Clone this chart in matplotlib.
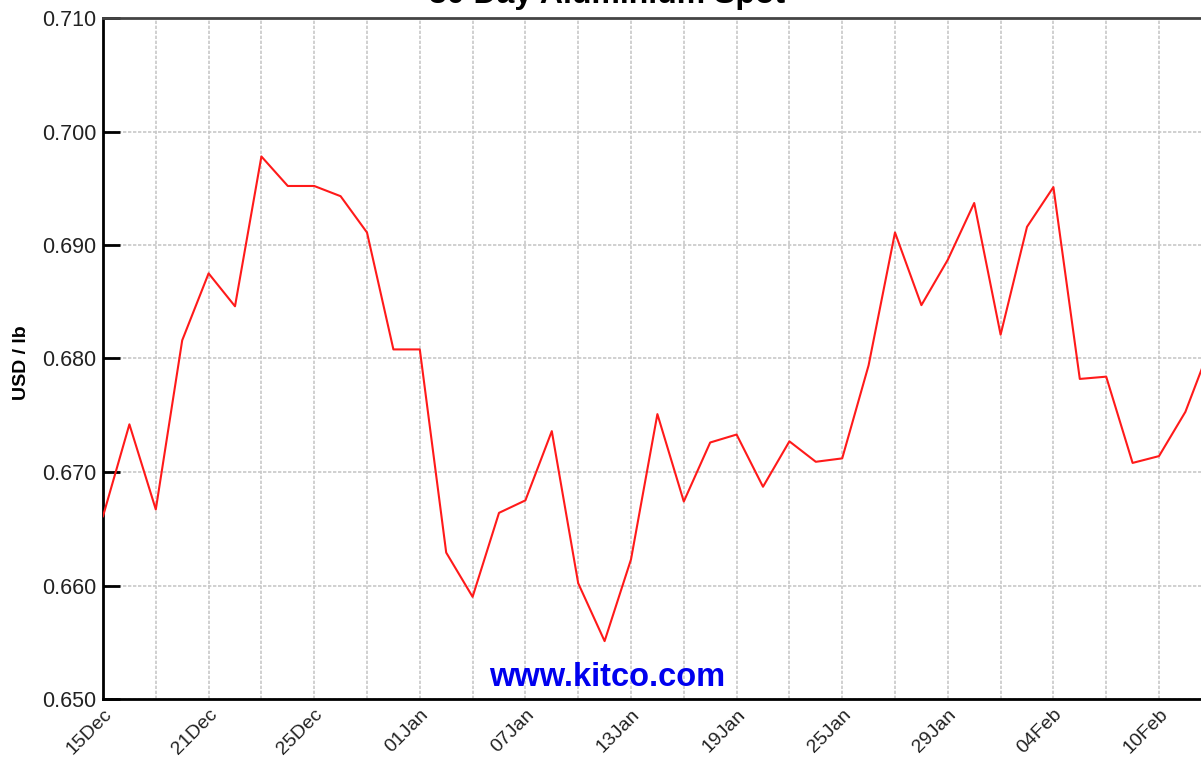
import numpy as np
import matplotlib
matplotlib.use('Agg')
import matplotlib.pyplot as plt

#=============== data ==================================================
prices = [0.6661, 0.6742, 0.6667, 0.6816, 0.6875, 0.6846, 0.6978, 0.6952,
          0.6952, 0.6943, 0.6911, 0.6808, 0.6808, 0.6629, 0.6590, 0.6664,
          0.6675, 0.6736, 0.6602, 0.6551, 0.6623, 0.6751, 0.6674, 0.6726,
          0.6733, 0.6687, 0.6727, 0.6709, 0.6712, 0.6794, 0.6911, 0.6847,
          0.6887, 0.6937, 0.6821, 0.6916, 0.6951, 0.6782, 0.6784, 0.6708,
          0.6714, 0.6753, 0.6814]
date_labels = ['15Dec', '21Dec', '25Dec', '01Jan', '07Jan', '13Jan',
               '19Jan', '25Jan', '29Jan', '04Feb', '10Feb']
label_pos = [0, 4, 8, 12, 16, 20, 24, 28, 32, 36, 40]
y_ticks = [0.650, 0.660, 0.670, 0.680, 0.690, 0.700, 0.710]

plt.rcParams['font.family'] = ['Liberation Sans', 'DejaVu Sans']

W, H = 1201, 759
fig = plt.figure(figsize=(W / 100, H / 100), dpi=100)
# axes: left 103px, top 18px, bottom 699px, right runs off the picture
x0, x1 = 0, 44
px_per = (1159 - 103) / 40.
ax = fig.add_axes([103 / W, (H - 699) / H, (x1 - x0) * px_per / W, (699 - 18) / H])

x = np.arange(len(prices))
ax.plot(x, prices, color='#ff1a1a', lw=1.5, zorder=3)

ax.set_xlim(x0, x1)
ax.set_ylim(0.650, 0.710)

#---- x ticks and grid --------
ax.set_xticks(label_pos)
ax.set_xticklabels(date_labels, rotation=45, ha='right', va='top',
                   rotation_mode='anchor', fontsize=14, color='#222222')
ax.set_xticks(np.arange(2, x1 + 1, 4), minor=True)
ax.tick_params(axis='x', which='both', length=0)
ax.tick_params(axis='x', which='major', pad=5)
ax.grid(True, which='both', color='#c8c8c8', lw=1.2, ls=(0, (2, 1)))

ax.set_yticks(y_ticks)
ax.set_yticklabels(['%.3f' % v for v in y_ticks], fontsize=15.5, color='#222222')
ax.tick_params(axis='y', direction='in', length=12, width=2, pad=5, color='black')

for s in ['left', 'bottom']:
    ax.spines[s].set_linewidth(2)
    ax.spines[s].set_color('black')
ax.spines['top'].set_linewidth(2)
ax.spines['top'].set_color('#444444')

ax.set_ylabel('USD / lb', fontsize=14, fontweight='bold', labelpad=0)
ax.yaxis.set_label_coords(-73 / (x1 * px_per), (699 - 363) / 681.)

fig.text(607 / W, 1 - 3 / H, '30 Day Aluminium Spot', ha='center', va='baseline',
         fontsize=23, fontweight='bold')
fig.text(607 / W, 1 - 677 / H, 'www.kitco.com', ha='center', va='center',
         fontsize=23.5, fontweight='bold', color='#0000ee')

fig.savefig('out.png', dpi=100)
